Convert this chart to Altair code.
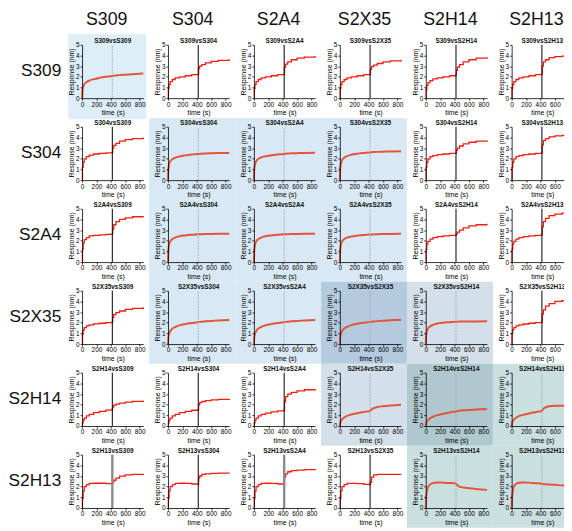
import altair as alt
import pandas as pd

ANTIBODIES = ["S309", "S304", "S2A4", "S2X35", "S2H14", "S2H13"]
TIME = [0, 5, 15, 30, 60, 100, 160, 240, 330, 419, 425, 440, 470, 520, 600, 700, 850]
X_TICKS = [0, 200, 400, 600, 800]
Y_TICKS = [0, 1, 2, 3, 4, 5]
SWITCH_T = 420

# one list per loaded antibody (row), one curve per competitor (column)
CURVES_S309 = [
    [0, 0.7, 1.05, 1.3, 1.5, 1.65, 1.78, 1.9, 2.0, 2.07, 2.08, 2.1, 2.12, 2.16, 2.2, 2.25, 2.32],
    [0, 0.9, 1.3, 1.55, 1.75, 1.9, 2.0, 2.1, 2.2, 2.25, 2.8, 3.0, 3.15, 3.3, 3.45, 3.55, 3.65],
    [0, 0.9, 1.3, 1.55, 1.75, 1.9, 2.0, 2.1, 2.2, 2.25, 2.9, 3.2, 3.4, 3.6, 3.75, 3.85, 3.95],
    [0, 0.9, 1.3, 1.55, 1.75, 1.9, 2.0, 2.1, 2.2, 2.25, 2.7, 2.95, 3.1, 3.25, 3.4, 3.5, 3.6],
    [0, 0.8, 1.2, 1.45, 1.65, 1.8, 1.9, 2.0, 2.1, 2.15, 2.6, 2.9, 3.15, 3.4, 3.6, 3.75, 3.85],
    [0, 0.9, 1.3, 1.55, 1.75, 1.9, 2.0, 2.1, 2.2, 2.25, 3.0, 3.4, 3.6, 3.8, 3.9, 3.95, 4.0],
]
CURVES_S304 = [
    [0, 1.2, 1.7, 2.0, 2.2, 2.35, 2.45, 2.5, 2.55, 2.6, 3.0, 3.25, 3.45, 3.65, 3.8, 3.9, 4.0],
    [0, 1.0, 1.45, 1.75, 1.95, 2.1, 2.22, 2.32, 2.4, 2.45, 2.45, 2.46, 2.48, 2.5, 2.52, 2.54, 2.55],
    [0, 1.0, 1.45, 1.75, 1.97, 2.12, 2.24, 2.33, 2.4, 2.45, 2.46, 2.47, 2.49, 2.51, 2.53, 2.55, 2.57],
    [0, 1.1, 1.55, 1.85, 2.1, 2.25, 2.38, 2.48, 2.55, 2.6, 2.6, 2.62, 2.63, 2.65, 2.67, 2.68, 2.7],
    [0, 1.2, 1.7, 2.0, 2.2, 2.3, 2.4, 2.45, 2.5, 2.55, 2.8, 3.0, 3.2, 3.4, 3.55, 3.65, 3.75],
    [0, 1.2, 1.7, 2.0, 2.2, 2.3, 2.4, 2.45, 2.5, 2.55, 3.3, 3.7, 3.9, 4.05, 4.15, 4.2, 4.25],
]
CURVES_S2A4 = [
    [0, 1.2, 1.8, 2.1, 2.3, 2.45, 2.5, 2.55, 2.6, 2.65, 3.1, 3.5, 3.8, 4.0, 4.15, 4.25, 4.3],
    [0, 1.1, 1.6, 1.9, 2.15, 2.3, 2.42, 2.5, 2.56, 2.6, 2.6, 2.61, 2.62, 2.63, 2.64, 2.65, 2.66],
    [0, 1.1, 1.6, 1.9, 2.15, 2.3, 2.42, 2.5, 2.56, 2.6, 2.6, 2.61, 2.62, 2.63, 2.64, 2.65, 2.66],
    [0, 1.1, 1.6, 1.9, 2.15, 2.3, 2.4, 2.48, 2.54, 2.58, 2.58, 2.59, 2.6, 2.62, 2.63, 2.64, 2.65],
    [0, 1.2, 1.7, 1.95, 2.15, 2.3, 2.38, 2.45, 2.5, 2.55, 2.65, 2.8, 3.0, 3.2, 3.4, 3.5, 3.6],
    [0, 1.2, 1.7, 1.95, 2.15, 2.3, 2.38, 2.45, 2.5, 2.6, 3.3, 3.8, 4.1, 4.35, 4.5, 4.6, 4.7],
]
CURVES_S2X35 = [
    [0, 0.9, 1.3, 1.55, 1.7, 1.8, 1.9, 1.95, 2.0, 2.05, 2.5, 2.75, 2.95, 3.1, 3.25, 3.35, 3.45],
    [0, 0.6, 0.95, 1.2, 1.45, 1.6, 1.75, 1.87, 1.97, 2.05, 2.06, 2.08, 2.1, 2.13, 2.17, 2.21, 2.26],
    [0, 0.6, 0.95, 1.2, 1.45, 1.6, 1.75, 1.87, 1.97, 2.05, 2.06, 2.08, 2.1, 2.13, 2.17, 2.21, 2.26],
    [0, 0.6, 0.95, 1.2, 1.45, 1.62, 1.78, 1.9, 2.0, 2.08, 2.09, 2.1, 2.12, 2.15, 2.19, 2.23, 2.28],
    [0, 0.8, 1.2, 1.45, 1.65, 1.8, 1.92, 2.0, 2.05, 2.1, 2.1, 2.1, 2.11, 2.11, 2.12, 2.12, 2.13],
    [0, 1.0, 1.35, 1.55, 1.7, 1.8, 1.88, 1.95, 2.0, 2.1, 2.8, 3.2, 3.55, 3.8, 4.0, 4.08, 4.1],
]
CURVES_S2H14 = [
    [0, 0.3, 0.55, 0.75, 0.95, 1.1, 1.25, 1.38, 1.5, 1.6, 1.8, 1.95, 2.05, 2.15, 2.25, 2.32, 2.4],
    [0, 0.3, 0.55, 0.75, 0.95, 1.1, 1.25, 1.38, 1.48, 1.55, 2.0, 2.2, 2.3, 2.38, 2.45, 2.5, 2.55],
    [0, 0.3, 0.55, 0.75, 0.95, 1.1, 1.22, 1.33, 1.42, 1.5, 2.3, 2.75, 3.0, 3.15, 3.3, 3.4, 3.5],
    [0, 0.25, 0.45, 0.62, 0.8, 0.95, 1.08, 1.2, 1.32, 1.42, 1.45, 1.55, 1.68, 1.78, 1.86, 1.93, 2.0],
    [0, 0.2, 0.4, 0.55, 0.72, 0.88, 1.02, 1.15, 1.27, 1.37, 1.38, 1.4, 1.43, 1.47, 1.5, 1.55, 1.6],
    [0, 0.25, 0.45, 0.6, 0.78, 0.93, 1.05, 1.18, 1.3, 1.42, 1.48, 1.62, 1.75, 1.85, 1.9, 1.9, 1.85],
]
CURVES_S2H13 = [
    [0, 0.9, 1.6, 2.0, 2.2, 2.3, 2.32, 2.32, 2.28, 2.22, 2.4, 2.6, 2.8, 2.98, 3.1, 3.15, 3.18],
    [0, 0.9, 1.6, 2.0, 2.2, 2.3, 2.32, 2.3, 2.25, 2.2, 2.8, 3.0, 3.15, 3.2, 3.25, 3.27, 3.25],
    [0, 0.9, 1.6, 2.0, 2.2, 2.3, 2.32, 2.3, 2.25, 2.2, 2.9, 3.2, 3.4, 3.5, 3.55, 3.6, 3.65],
    [0, 0.9, 1.6, 2.0, 2.2, 2.3, 2.3, 2.28, 2.22, 2.18, 2.4, 2.9, 3.1, 3.15, 3.15, 3.15, 3.15],
    [0, 0.8, 1.5, 1.95, 2.2, 2.35, 2.4, 2.38, 2.35, 2.3, 2.25, 2.12, 2.0, 1.92, 1.85, 1.78, 1.7],
    [0, 0.9, 1.6, 2.0, 2.25, 2.37, 2.4, 2.38, 2.33, 2.28, 2.27, 2.25, 2.23, 2.2, 2.17, 2.12, 2.07],
]
ALL_CURVES = [CURVES_S309, CURVES_S304, CURVES_S2A4, CURVES_S2X35, CURVES_S2H14, CURVES_S2H13]

# shaded competition blocks ("" = plain white panel)
BLOCKS = [
    ["A", "", "", "", "", ""],
    ["", "B", "B", "B", "", ""],
    ["", "B", "B", "B", "", ""],
    ["", "B", "B", "BC", "C", ""],
    ["", "", "", "C", "CD", "D"],
    ["", "", "", "", "D", "D"],
]
BLOCK_FILL = {
    "A": "#ddeef8", "B": "#d8e8f4", "BC": "#b4cadf",
    "C": "#d3dfe9", "CD": "#aec8cd", "D": "#cadfe0",
}
HEAVY_RULE = [("S2H13", "S309"), ("S2H13", "S2A4")]

records = []
for i, (r, curves) in enumerate(zip(ANTIBODIES, ALL_CURVES)):
    for j, c in enumerate(ANTIBODIES):
        blk = BLOCKS[i][j]
        heavy = (r, c) in HEAVY_RULE
        for t, v in zip(TIME, curves[j]):
            records.append(dict(
                row=r, col=c, title=f"{r}vs{c}",
                kind="self" if blk else "cross", blk=blk,
                fill=BLOCK_FILL.get(blk, "#ffffff"), t=t, v=v,
                rc="#8a8a8a" if heavy else "#000000", rw=2.4 if heavy else 1.0,
            ))
df = pd.DataFrame(records)

W, H = 62, 54
FONT = "Liberation Sans"
xs = alt.Scale(domain=[0, 850], nice=False)
ys = alt.Scale(domain=[0, 5], nice=False)
x_axis = alt.Axis(values=X_TICKS, title="time (s)", zindex=1,
                  labelOverlap=False, labelFlush=False, labelSeparation=0)
y_axis = alt.Axis(values=Y_TICKS, title="Response (nm)", zindex=1,
                  labelOverlap=False, labelSeparation=0)
xenc = alt.X("t:Q", scale=xs, axis=x_axis)
yenc = alt.Y("v:Q", scale=ys, axis=y_axis)
rule_x = alt.X("sw:Q", scale=xs, axis=x_axis)
rule_y = alt.Y("lo:Q", scale=ys, axis=y_axis)
rule_y2 = alt.Y2("hi:Q")

bg_a = alt.Chart().mark_rect().encode(
    x=alt.value(-14), x2=alt.value(W + 3), y=alt.value(-11), y2=alt.value(H + 21),
    fill=alt.Fill("fill:N", scale=None),
).transform_filter("datum.t == 0 && datum.blk == 'A'")

bg_main = alt.Chart().mark_rect().encode(
    x=alt.value(-19), x2=alt.value(W + 6), y=alt.value(-9), y2=alt.value(H + 20),
    fill=alt.Fill("fill:N", scale=None),
).transform_filter("datum.t == 0 && datum.blk != '' && datum.blk != 'A'")

rule_self = alt.Chart().mark_rule(color="#9aa7b3", strokeWidth=0.8, strokeDash=[2, 1]).encode(
    x=rule_x, y=rule_y, y2=rule_y2,
).transform_filter("datum.t == 0 && datum.kind == 'self'").transform_calculate(
    sw=str(SWITCH_T), lo=str(Y_TICKS[0]), hi=str(Y_TICKS[-1]))

rule_cross = alt.Chart().mark_rule().encode(
    x=rule_x, y=rule_y, y2=rule_y2,
    color=alt.Color("rc:N", scale=None),
    strokeWidth=alt.StrokeWidth("rw:Q", scale=None),
).transform_filter("datum.t == 0 && datum.kind == 'cross'").transform_calculate(
    sw=str(SWITCH_T), lo=str(Y_TICKS[0]), hi=str(Y_TICKS[-1]))

line_self = alt.Chart().mark_line(interpolate="monotone", color="#e4553a", strokeWidth=2.0).encode(
    x=xenc, y=yenc,
).transform_filter("datum.kind == 'self'")

line_cross = alt.Chart().mark_line(interpolate="step-after", color="#f01e10", strokeWidth=1.3).encode(
    x=xenc, y=yenc,
).transform_filter("datum.kind == 'cross'")

cell_title = alt.Chart().mark_text(font=FONT, fontSize=6.5, fontWeight="bold", baseline="bottom", color="#111").encode(
    x=alt.value(W / 2), y=alt.value(-1), text="title:N",
).transform_filter("datum.t == 0")

col_head = alt.Chart().mark_text(font=FONT, fontSize=18, baseline="alphabetic", align="center", color="#111").encode(
    x=alt.value(W / 2 - 6), y=alt.value(-20), text="col:N",
).transform_filter("datum.t == 0 && datum.row == 'S309'")

row_head = alt.Chart().mark_text(font=FONT, fontSize=17.5, baseline="middle", align="right", color="#111").encode(
    x=alt.value(-21), y=alt.value(H / 2), text="row:N",
).transform_filter("datum.t == 0 && datum.col == 'S309'")

cell = alt.layer(
    bg_a, bg_main, line_self, line_cross, rule_self, rule_cross, cell_title, col_head, row_head,
    data=df,
).properties(width=W, height=H)

chart = cell.facet(
    row=alt.Row("row:N", sort=ANTIBODIES, title=None, header=alt.Header(labels=False)),
    column=alt.Column("col:N", sort=ANTIBODIES, title=None, header=alt.Header(labels=False)),
    spacing={"row": 29, "column": 25},
    bounds="flush",
).resolve_axis(
    x="independent", y="independent"
).properties(
    padding={"left": 0, "top": 0, "right": -15, "bottom": 0},
    background="#ffffff",
).configure_axis(
    labelFont=FONT, titleFont=FONT, labelFontSize=6.5, titleFontSize=7,
    titleFontWeight="normal", labelColor="#000", titleColor="#000",
    domainColor="#000", tickColor="#000", tickSize=2, domainWidth=0.8, tickWidth=0.8,
    labelPadding=1, titlePadding=1, grid=False, labelOverlap=False,
).configure_view(strokeWidth=0)

chart.save("out.html", embed_options={"renderer": "svg", "actions": False})
